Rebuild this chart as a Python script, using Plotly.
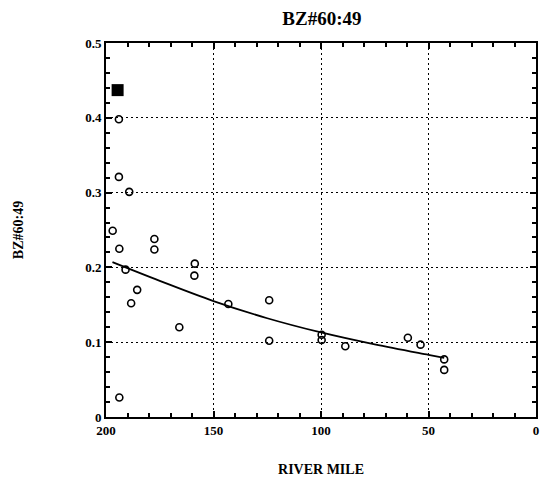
import plotly.graph_objects as go

# Sampled river-mile locations and BZ#60:49 ratios (open circles)
river_mile = [194.0, 194.0, 189.2, 196.9, 193.8, 190.9, 185.5, 188.3, 177.5, 177.5,
              165.9, 158.7, 158.9, 143.1, 193.8, 124.1, 124.1, 99.7, 99.7, 88.7,
              59.6, 53.7, 42.7, 42.7]
ratio = [0.398, 0.321, 0.301, 0.249, 0.225, 0.197, 0.170, 0.152, 0.238, 0.224,
         0.120, 0.205, 0.189, 0.151, 0.026, 0.156, 0.102, 0.110, 0.103, 0.0945,
         0.106, 0.0967, 0.077, 0.063]

# Source / reference value (filled square)
source_mile = [194.6]
source_ratio = [0.437]

# Fitted trend curve
fit_mile = [197, 175, 150, 125, 100, 75, 50, 42.7]
fit_ratio = [0.207, 0.182, 0.155, 0.132, 0.113, 0.097, 0.083, 0.079]

x_ticks = [200, 150, 100, 50, 0]
y_ticks = [0, 0.1, 0.2, 0.3, 0.4, 0.5]
y_tick_text = ["0", "0.1", "0.2", "0.3", "0.4", "0.5"]

serif = "Liberation Serif"

fig = go.Figure()
fig.add_trace(go.Scatter(
    x=fit_mile, y=fit_ratio, mode="lines",
    line=dict(color="black", width=1.8, shape="spline"),
    hoverinfo="skip", showlegend=False))
fig.add_trace(go.Scatter(
    x=river_mile, y=ratio, mode="markers",
    marker=dict(symbol="circle-open", size=7, color="black",
                line=dict(width=1.6, color="black")),
    showlegend=False))
fig.add_trace(go.Scatter(
    x=source_mile, y=source_ratio, mode="markers",
    marker=dict(symbol="square", size=12, color="black"),
    showlegend=False))

axis_common = dict(
    showline=True, linecolor="black", linewidth=2, mirror="ticks",
    ticks="inside", ticklen=6, tickwidth=1.5, tickcolor="black",
    showgrid=True, gridcolor="black", gridwidth=1.2, griddash="2px,3px",
    zeroline=False,
    tickfont=dict(family=serif, size=13, color="black", weight="bold"),
)

fig.update_xaxes(
    range=[200, 0], tickvals=x_ticks,
    minor=dict(dtick=10, ticks="inside", ticklen=4, tickcolor="black", showgrid=False),
    title=dict(text="<b>RIVER MILE</b>", font=dict(family=serif, size=14, color="black"),
               standoff=28),
    **axis_common)
fig.update_yaxes(
    range=[0, 0.5], tickvals=y_ticks, ticktext=y_tick_text,
    minor=dict(dtick=0.02, ticks="inside", ticklen=4, tickcolor="black", showgrid=False),
    title=dict(text="<b>BZ#60:49</b>", font=dict(family=serif, size=14, color="black"),
               standoff=58),
    **axis_common)

fig.update_layout(
    width=541, height=484,
    margin=dict(l=106, r=3, t=43, b=67),
    paper_bgcolor="white", plot_bgcolor="white",
    title=dict(text="<b>BZ#60:49</b>", x=0.595, xanchor="center", y=0.962, yanchor="middle",
               font=dict(family=serif, size=19, color="black")),
)

fig.write_html("out.html")
